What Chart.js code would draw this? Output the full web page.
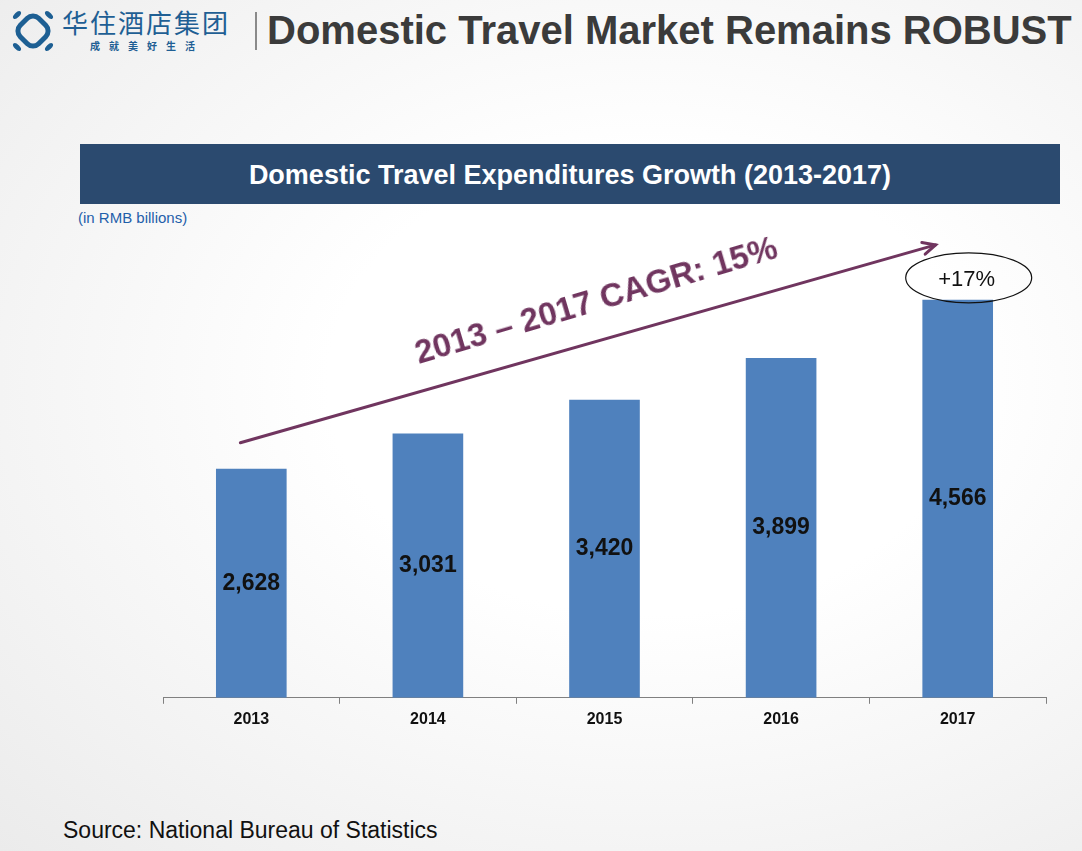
<!DOCTYPE html>
<html>
<head>
<meta charset="utf-8">
<script src="https://cdn.jsdelivr.net/npm/chart.js@4.4.1/dist/chart.umd.min.js"></script>
<style>
  html, body { margin: 0; padding: 0; }
  body {
    width: 1082px; height: 851px; position: relative; overflow: hidden;
    font-family: "Liberation Sans", Arial, sans-serif;
    background: radial-gradient(ellipse at 60% 45%, #ffffff 35%, #ebebeb 100%);
  }
  .abs { position: absolute; white-space: nowrap; }
  #logo { left: 8px; top: 6px; }
  #brand { left: 62px; top: 7px; font-family: "Noto Sans CJK SC", sans-serif; font-size: 26px; line-height: 30px; color: #1f5f94; letter-spacing: 2px; }
  #slogan { left: 90px; top: 40px; font-family: "Noto Sans CJK SC", sans-serif; font-size: 10px; line-height: 12px; font-weight: bold; color: #1f5f94; letter-spacing: 9px; }
  #sep { left: 255px; top: 12px; width: 2px; height: 38px; background: #8a8a8a; }
  #title { left: 267px; top: 10px; font-size: 40px; line-height: 40px; font-weight: bold; color: #3b3b3b; }
  #banner { left: 80px; top: 144px; width: 980px; height: 60px; background: #2b4a6f; color: #fff; font-size: 27px; font-weight: bold; text-align: center; line-height: 62px; }
  #unit { left: 78px; top: 209px; font-size: 15px; color: #1f5faa; }
  #source { left: 63px; top: 817px; font-size: 23px; color: #111; }
  #cagr { left: 596px; top: 300px; font-size: 33px; font-weight: bold; color: #70355f; transform: translate(-50%, -50%) rotate(-16.5deg); }
  #growth { font-size: 22px; color: #111; transform: translate(-50%, -50%); }
  #wrap { position: absolute; left: 150px; top: 230px; width: 910px; height: 520px; }
</style>
</head>
<body>
<svg id="logo" class="abs" width="50" height="50" viewBox="0 0 50 50">
  <rect x="12" y="12" width="26" height="26" rx="8" ry="8" transform="rotate(45 25 25)" fill="none" stroke="#1d5f93" stroke-width="5"/>
  <ellipse cx="9" cy="9" rx="5" ry="2.5" transform="rotate(-45 9 9)" fill="#1d5f93"/>
  <ellipse cx="41" cy="9" rx="5" ry="2.5" transform="rotate(45 41 9)" fill="#1d5f93"/>
  <ellipse cx="9" cy="41" rx="5" ry="2.5" transform="rotate(45 9 41)" fill="#1d5f93"/>
  <ellipse cx="41" cy="41" rx="5" ry="2.5" transform="rotate(-45 41 41)" fill="#1d5f93"/>
</svg>
<div id="brand" class="abs">华住酒店集团</div>
<div id="slogan" class="abs">成就美好生活</div>
<div id="sep" class="abs"></div>
<div id="title" class="abs">Domestic Travel Market Remains ROBUST</div>
<div id="banner" class="abs">Domestic Travel Expenditures Growth (2013-2017)</div>
<div id="unit" class="abs">(in RMB billions)</div>
<div id="wrap"><canvas id="chart"></canvas></div>
<div id="cagr" class="abs"></div>
<div id="growth" class="abs"></div>
<div id="source" class="abs">Source: National Bureau of Statistics</div>

<script>
// data
const years = ['2013', '2014', '2015', '2016', '2017'];
const spending = [2628, 3031, 3420, 3899, 4566];
const cagrNote = '2013 – 2017 CAGR: 15%';
const growthNote = '+17%';

const barColor = '#4f81bd';
const purple = '#70355f';

document.getElementById('cagr').textContent = cagrNote;
document.getElementById('growth').textContent = growthNote;

// 棒の中央に値を描く + 矢印と楕円
const overlayPlugin = {
  id: 'overlay',
  afterDatasetsDraw(chart) {
    const ctx = chart.ctx;
    const meta = chart.getDatasetMeta(0);
    ctx.save();
    ctx.font = 'bold 23px "Liberation Sans", Arial, sans-serif';
    ctx.fillStyle = '#111';
    ctx.textAlign = 'center';
    ctx.textBaseline = 'middle';
    meta.data.forEach((bar, i) => {
      const label = spending[i].toLocaleString('en-US');
      ctx.fillText(label, bar.x, (bar.y + bar.base) / 2);
    });

    // CAGR arrow
    const xs = chart.scales.x, ys = chart.scales.y;
    const x0 = xs.getPixelForValue(-0.062), y0 = ys.getPixelForValue(2926);
    const x1 = xs.getPixelForValue(3.875), y1 = ys.getPixelForValue(5196);
    ctx.strokeStyle = purple;
    ctx.lineWidth = 3;
    ctx.lineCap = 'round';
    ctx.beginPath();
    ctx.moveTo(x0, y0);
    ctx.lineTo(x1, y1);
    ctx.stroke();
    const ang = Math.atan2(y1 - y0, x1 - x0);
    const head = 14;
    ctx.beginPath();
    ctx.moveTo(x1 - head * Math.cos(ang - 0.45), y1 - head * Math.sin(ang - 0.45));
    ctx.lineTo(x1, y1);
    ctx.lineTo(x1 - head * Math.cos(ang + 0.45), y1 - head * Math.sin(ang + 0.45));
    ctx.stroke();

    // ellipse round the last bar's growth
    const last = meta.data[meta.data.length - 1];
    const cx = last.x + 11, cy = last.y - 22;
    ctx.lineWidth = 1.2;
    ctx.strokeStyle = '#111';
    ctx.beginPath();
    ctx.ellipse(cx, cy, 63, 25, 0, 0, Math.PI * 2);
    ctx.stroke();
    ctx.restore();

    const rect = chart.canvas.getBoundingClientRect();
    const g = document.getElementById('growth');
    g.style.left = (rect.left + cx - 2) + 'px';
    g.style.top = (rect.top + cy + 1) + 'px';
  }
};

new Chart(document.getElementById('chart'), {
  type: 'bar',
  data: {
    labels: years,
    datasets: [{
      data: spending,
      backgroundColor: barColor,
      barPercentage: 0.4,
      categoryPercentage: 1.0
    }]
  },
  options: {
    responsive: true,
    maintainAspectRatio: false,
    animation: false,
    layout: { padding: { left: 13, right: 14, top: 32, bottom: 15 } },
    plugins: { legend: { display: false }, tooltip: { enabled: false } },
    scales: {
      y: { display: false, min: 0, max: 5000 },
      x: {
        grid: { display: true, drawOnChartArea: false, drawTicks: true, tickLength: 6, color: '#808080', offset: true },
        border: { display: true, color: '#808080', width: 1 },
        ticks: { color: '#111', padding: 6, font: { family: '"Liberation Sans", Arial, sans-serif', size: 16, weight: 'bold' } }
      }
    }
  },
  plugins: [overlayPlugin]
});
</script>
</body>
</html>
